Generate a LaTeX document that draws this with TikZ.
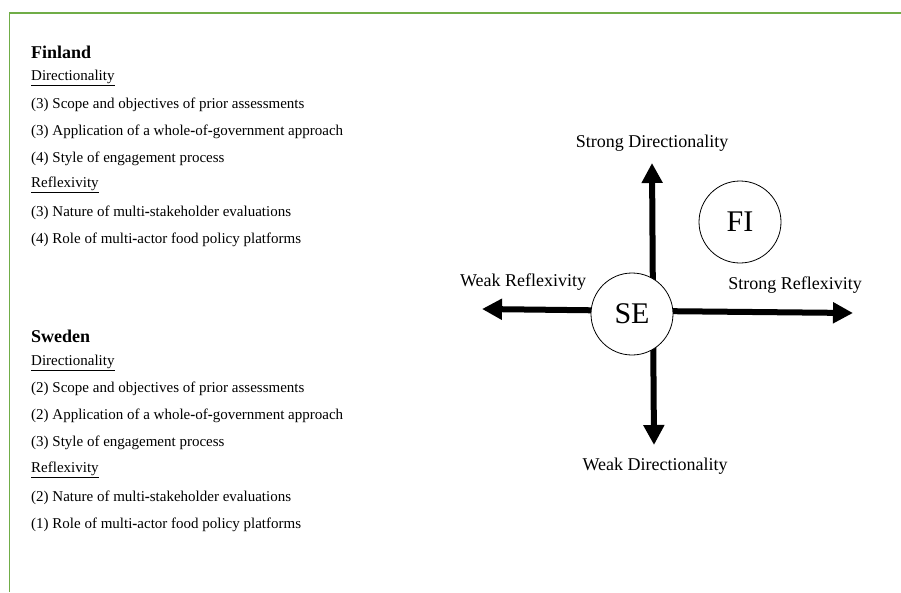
\documentclass[tikz,border=0pt]{standalone}
\usepackage{fontspec}
\setmainfont{Liberation Serif}
\usetikzlibrary{arrows.meta}
\definecolor{framegreen}{HTML}{70AD47}

\begin{document}
\begin{tikzpicture}[x=1pt,y=-1pt,
  item/.style={anchor=west,inner sep=0pt,font=\fontsize{15}{18}\selectfont},
  heading/.style={anchor=west,inner sep=0pt,font=\fontsize{18}{21}\selectfont\bfseries},
  axislabel/.style={inner sep=0pt,font=\fontsize{18}{21}\selectfont},
  axis/.style={line width=6pt,-{Triangle[width=20pt,length=20pt]}},
  country/.style={circle,draw,fill=white,line width=0.8pt,minimum size=82pt,
    inner sep=0pt,font=\fontsize{30}{32}\selectfont}]

\useasboundingbox (0,0) rectangle (901,592);

% frame along the top and the left side
\draw[framegreen,line width=1.6pt] (9.5,592) -- (9.5,13) -- (901,13);

% Finland
\node[heading] (fiHead) at (31,52) {Finland};
\node[item] (fiDir) at (31,78) {\underline{Directionality}};
\node[item] (fiD1) at (31,105) {(3) Scope and objectives of prior assessments};
\node[item] (fiD2) at (31,132) {(3) Application of a whole\textbf{-}of\textbf{-}government approach};
\node[item] (fiD3) at (31,159) {(4) Style of engagement process};
\node[item] (fiRef) at (31,185) {\underline{Reflexivity}};
\node[item] (fiR1) at (31,213) {(3) Nature of multi\textbf{-}stakeholder evaluations};
\node[item] (fiR2) at (31,240) {(4) Role of multi\textbf{-}actor food policy platforms};

% Sweden
\node[heading] (seHead) at (31,336) {Sweden};
\node[item] (seDir) at (31,363) {\underline{Directionality}};
\node[item] (seD1) at (31,389) {(2) Scope and objectives of prior assessments};
\node[item] (seD2) at (31,416) {(2) Application of a whole\textbf{-}of\textbf{-}government approach};
\node[item] (seD3) at (31,443) {(3) Style of engagement process};
\node[item] (seRef) at (31,470) {\underline{Reflexivity}};
\node[item] (seR1) at (31,498) {(2) Nature of multi\textbf{-}stakeholder evaluations};
\node[item] (seR2) at (31,525) {(1) Role of multi\textbf{-}actor food policy platforms};

% axes
\coordinate (cross) at (653,311);
\coordinate (vtop) at (652,163);
\coordinate (vbot) at (654,445);
\coordinate (hleft) at (482,309);
\coordinate (hright) at (853,313);
\draw[axis] (cross) -- (vtop);
\draw[axis] (cross) -- (vbot);
\draw[axis] (cross) -- (hleft);
\draw[axis] (cross) -- (hright);

\node[axislabel] (lblSD) at (652,143) {Strong Directionality};
\node[axislabel] (lblWD) at (655,466) {Weak Directionality};
\node[axislabel] (lblWR) at (523,282) {Weak Reflexivity};
\node[axislabel] (lblSR) at (795,285) {Strong Reflexivity};

% country positions
\node[country] (SE) at (632,314) {SE};
\node[country] (FI) at (740,222) {FI};
\end{tikzpicture}
\end{document}
